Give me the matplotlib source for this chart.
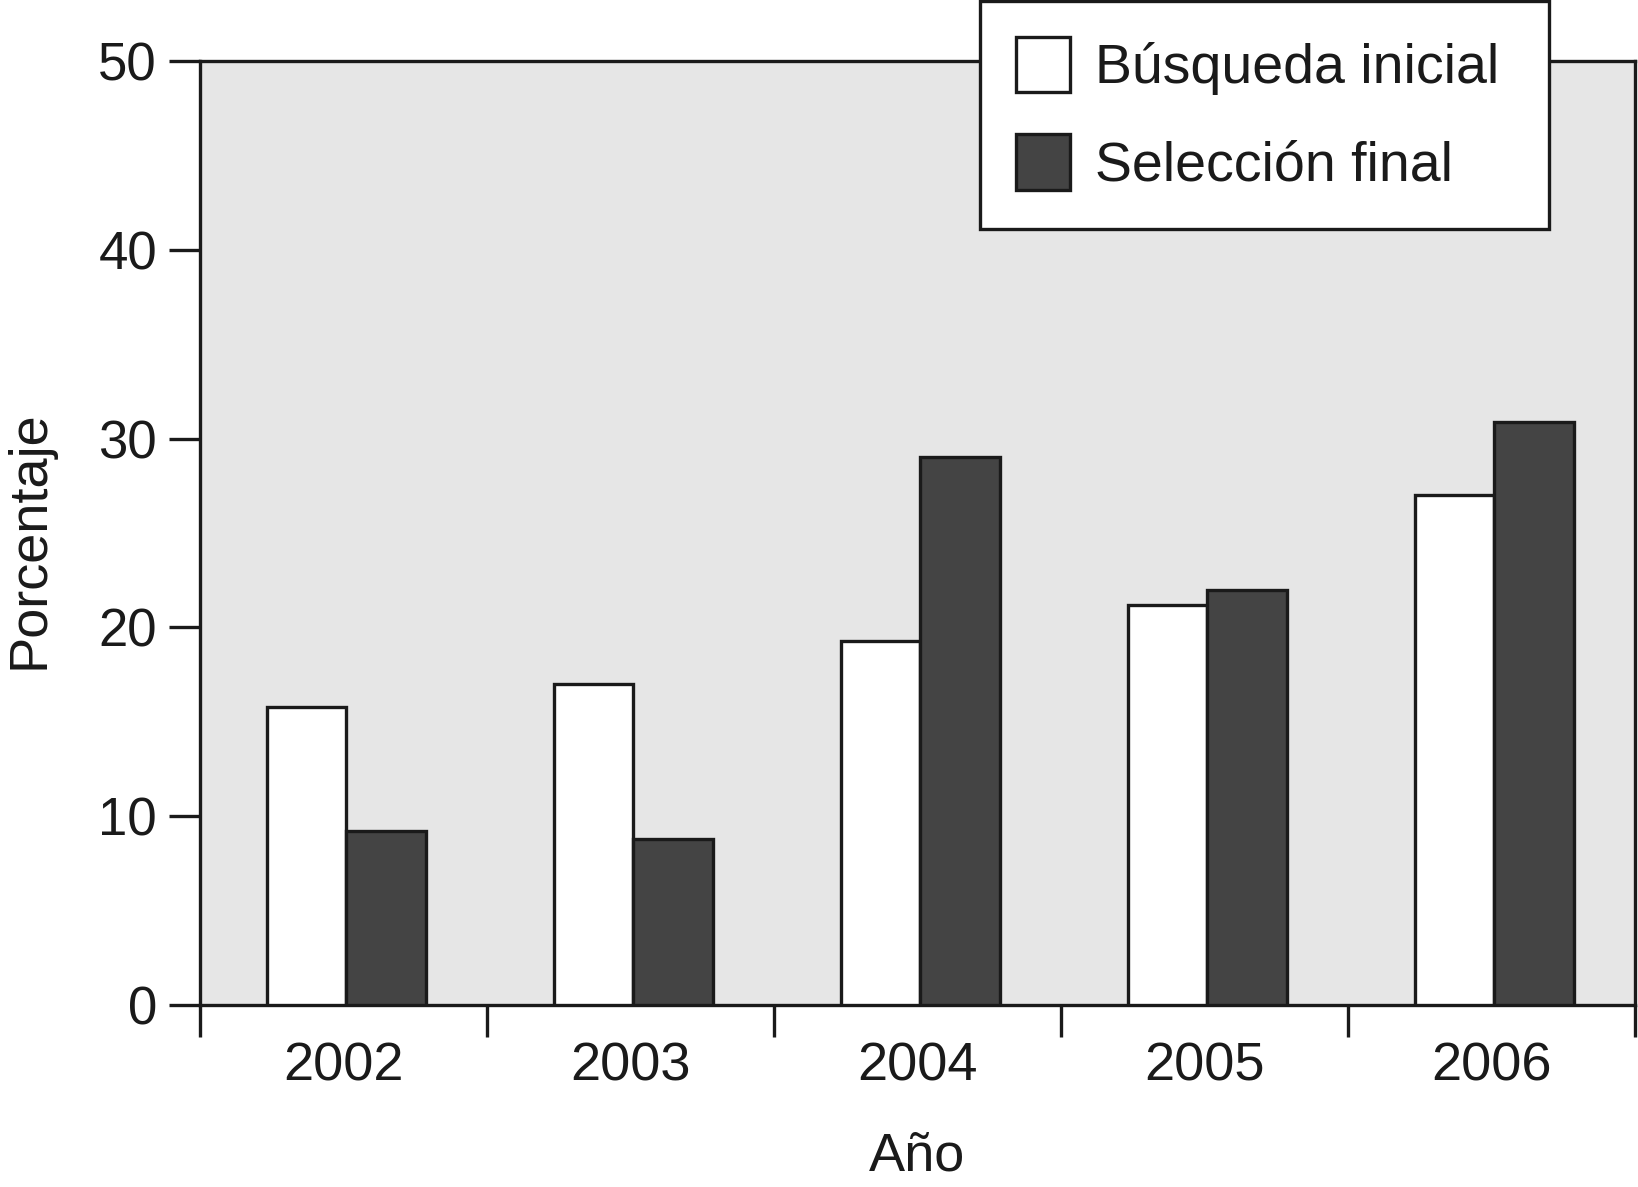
import matplotlib
matplotlib.use("Agg")
import matplotlib.pyplot as plt
import numpy as np

years = ["2002", "2003", "2004", "2005", "2006"]
busqueda_inicial = [15.8, 17.0, 19.3, 21.2, 27.0]
seleccion_final = [9.2, 8.8, 29.0, 22.0, 30.9]
yticks = [0, 10, 20, 30, 40, 50]

plt.rcParams['font.family'] = ['Liberation Sans', 'DejaVu Sans']

fig = plt.figure(figsize=(16.38, 11.87), dpi=100)
ax = fig.add_axes([200/1638, 1-1005/1187, 1435/1638, 944/1187])
ax.set_facecolor('#e6e6e6')

x = np.arange(len(years)) + 0.5
w = 0.276
edge = '#1a1a1a'
ax.bar(x - w/2 + 0.01, busqueda_inicial, width=w, color='white', edgecolor=edge,
       linewidth=2.4, label='Búsqueda inicial', zorder=3)
ax.bar(x + w/2 + 0.01, seleccion_final, width=w, color='#444444', edgecolor=edge,
       linewidth=2.4, label='Selección final', zorder=3)

ax.set_xlim(0, len(years))
ax.set_ylim(0, 50)
ax.set_yticks(yticks)
ax.set_yticklabels([str(v) for v in yticks])
ax.set_xticks(np.arange(len(years) + 1))
ax.set_xticklabels([])
ax.set_xticks(x, minor=True)
ax.set_xticklabels(years, minor=True)
ax.tick_params(axis='x', which='minor', length=0, pad=26, labelsize=39)
ax.tick_params(axis='x', which='major', length=23, width=2.4, direction='out', color=edge)
ax.tick_params(axis='y', length=22, width=2.4, direction='out', pad=9, labelsize=38, color=edge)

for s in ax.spines.values():
    s.set_linewidth(2.4)
    s.set_color(edge)

ax.set_ylabel('Porcentaje', fontsize=39, color='#1a1a1a')
ax.yaxis.set_label_coords(-0.119, 0.493)
ax.yaxis.label.set_va('center')
ax.set_xlabel('Año', fontsize=39, color='#1a1a1a')
ax.xaxis.set_label_coords(0.5, -0.16)
ax.xaxis.label.set_va('center')

for lab in ax.get_yticklabels() + ax.get_xticklabels(minor=True):
    lab.set_color('#1a1a1a')

leg = ax.legend(loc='upper left',
                bbox_to_anchor=(980/1638, 1-231/1187, 569/1638, 230/1187),
                bbox_transform=fig.transFigure, mode='expand', fontsize=40,
                frameon=True, fancybox=False, shadow=False, framealpha=1,
                edgecolor=edge, handlelength=0.975, handleheight=1.15,
                handletextpad=0.45, labelspacing=0.7, borderpad=0.65,
                borderaxespad=0)
leg.get_frame().set_linewidth(2.4)
leg.set_zorder(10)
for t in leg.get_texts():
    t.set_color('#1a1a1a')

fig.savefig('out.png', dpi=100)
